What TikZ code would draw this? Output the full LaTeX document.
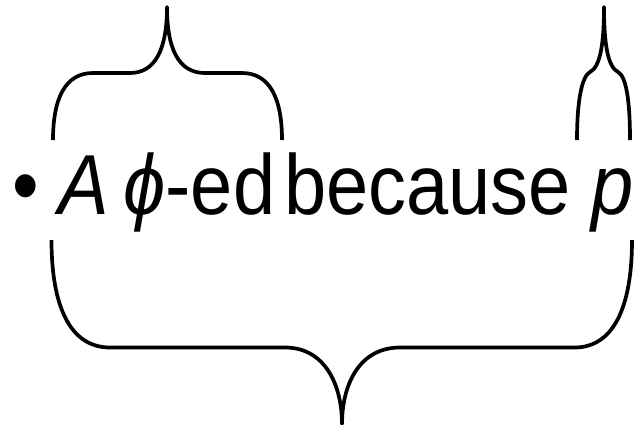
\documentclass[tikz,border=0pt]{standalone}
\usepackage{fontspec}
\setmainfont[FakeStretch=0.89]{Liberation Sans}
\usetikzlibrary{positioning}

\tikzset{
  word/.style={inner sep=0pt, outer sep=0pt, font=\fontsize{42.6}{50}\selectfont},
  curly/.style={line width=1.85pt, line join=round, line cap=butt},
}

\begin{document}
\begin{tikzpicture}[x=0.5pt, y=-0.5pt]
        \useasboundingbox (0,0) rectangle (641,424);
        \node[word, anchor=base west] (dot) at (12,214) {•};
        \node[word, base right=10pt of dot] (Aphi) {\textit{A}\hspace{7.2pt}\textit{ϕ}-ed};
        \node[word, base right=4.5pt of Aphi] (because) {because};
        \node[word, base right=10.5pt of because] (p) {\textit{p}};
%
        % brace over A phi-ed
        \draw[curly] (53,140) .. controls (53,97) and (66,73) .. (93,73) -- (130,73)
            .. controls (156,73) and (167,48) .. (167,7)
            .. controls (167,48) and (178,73) .. (205,73) -- (242,73)
            .. controls (269,73) and (282,97) .. (282,140);
        % brace over p
        \draw[curly] (577,140) .. controls (577,100) and (582,76) .. (590,72)
            .. controls (600,67) and (604,45) .. (604,7)
            .. controls (604,45) and (608,67) .. (618,72)
            .. controls (626,76) and (630,100) .. (630,140);
        % brace under the whole line
        \draw[curly] (51.5,240) .. controls (51.5,310) and (72,347.5) .. (110,347.5) -- (285,347.5)
            .. controls (325,347.5) and (342,385) .. (342,424)
            .. controls (342,385) and (359,347.5) .. (400,347.5) -- (574.5,347.5)
            .. controls (612,347.5) and (632,310) .. (632,240);
\end{tikzpicture}
\end{document}
